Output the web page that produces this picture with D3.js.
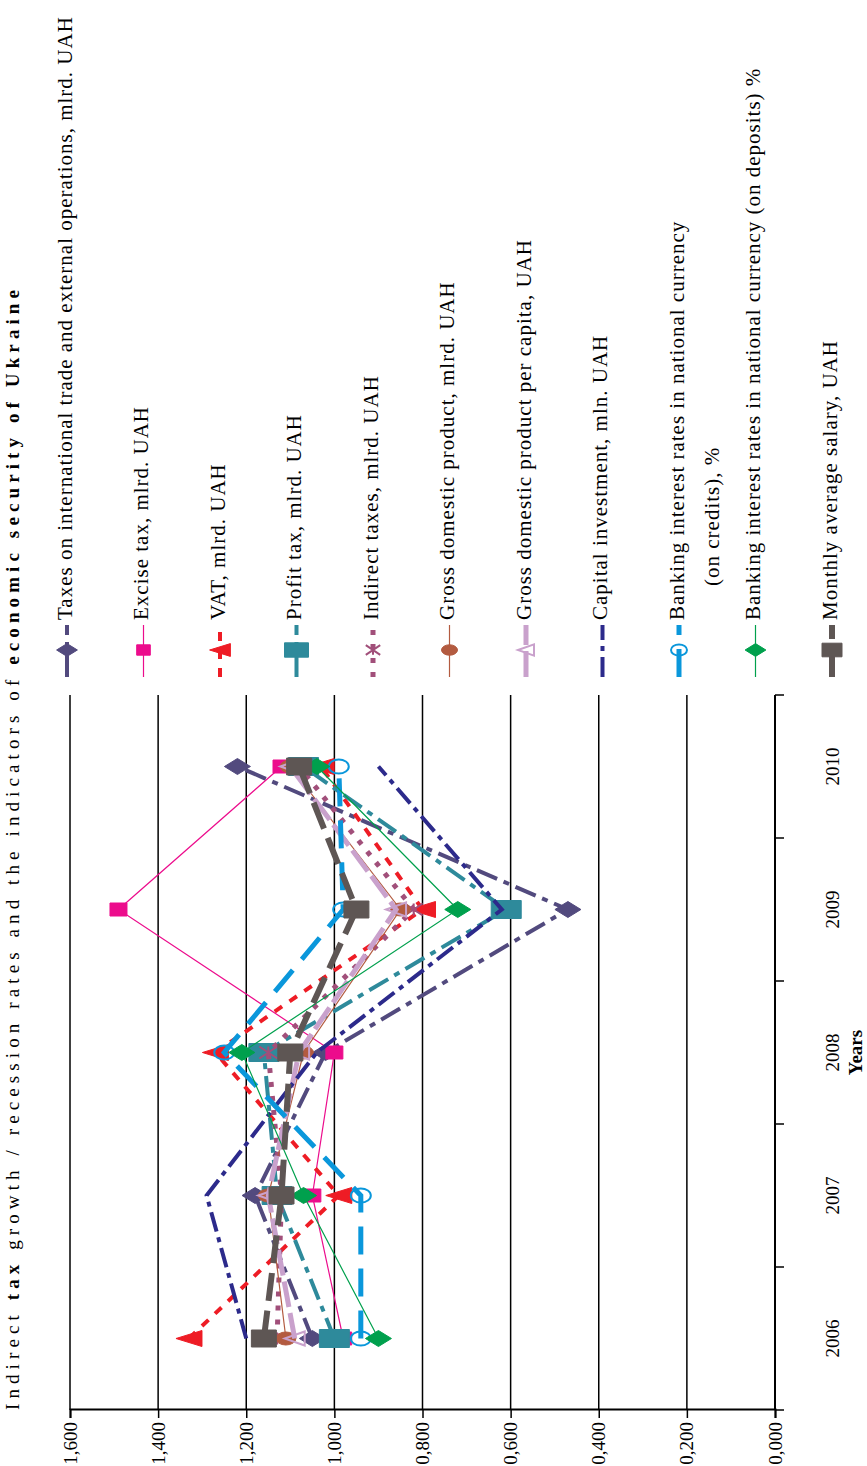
<!DOCTYPE html>
<html>
<head>
<meta charset="utf-8">
<script src="https://cdn.jsdelivr.net/npm/d3@7"></script>
<style>
  body { margin: 0; background: #fff; }
  svg text { font-family: "Liberation Serif", "Times New Roman", serif; fill: #000; }
</style>
</head>
<body>
<div id="chart"></div>
<script>
// Data (growth / recession rates)
const years = ['2006', '2007', '2008', '2009', '2010'];
const taxesTrade = [1.05, 1.18, 1.02, 0.47, 1.22];
const excise = [0.98, 1.05, 1.00, 1.49, 1.12];
const vat = [1.33, 0.99, 1.27, 0.80, 1.03];
const profitTax = [1.00, 1.13, 1.16, 0.61, 1.07];
const indirectTaxes = [1.13, 1.12, 1.15, 0.82, 1.08];
const gdp = [1.11, 1.15, 1.07, 0.85, 1.10];
const gdpPerCapita = [1.09, 1.15, 1.08, 0.86, 1.10];
const capitalInvestment = [1.20, 1.29, 1.04, 0.62, 0.90];
const creditRates = [0.94, 0.94, 1.25, 0.98, 0.99];
const depositRates = [0.90, 1.07, 1.21, 0.72, 1.04];
const salary = [1.16, 1.12, 1.10, 0.95, 1.08];
const valueTicks = [0, 0.2, 0.4, 0.6, 0.8, 1.0, 1.2, 1.4, 1.6];

const series = [
    {name: ['Taxes on international trade and external operations, mlrd. UAH'], values: taxesTrade,
     color: '#524a7e', width: 4, dash: '22,7,6,7', marker: 'diamond', mw: 16, mh: 26},
    {name: ['Excise tax, mlrd. UAH'], values: excise,
     color: '#ec0c8c', width: 1.2, dash: null, marker: 'square', mw: 13, mh: 17},
    {name: ['VAT, mlrd. UAH'], values: vat,
     color: '#ee1c25', width: 4, dash: '9,9', marker: 'triangle', mw: 16, mh: 26},
    {name: ['Profit tax, mlrd. UAH'], values: profitTax,
     color: '#2e8a9b', width: 4, dash: '22,7,6,7', marker: 'square', mw: 18, mh: 30},
    {name: ['Indirect taxes, mlrd. UAH'], values: indirectTaxes,
     color: '#a14f7a', width: 5, dash: '5,9', marker: 'cross', mw: 12, mh: 18},
    {name: ['Gross domestic product, mlrd. UAH'], values: gdp,
     color: '#b35b40', width: 1.2, dash: null, marker: 'circle', mw: 13, mh: 20},
    {name: ['Gross domestic product per capita, UAH'], values: gdpPerCapita,
     color: '#c9a1cc', width: 5, dash: '26,6', marker: 'openTriangle', mw: 14, mh: 20},
    {name: ['Capital investment, mln. UAH'], values: capitalInvestment,
     color: '#2c2a8b', width: 4, dash: '20,6,5,6', marker: null, mw: 0, mh: 0},
    {name: ['Banking interest rates in national currency', '(on credits), %'], values: creditRates,
     color: '#0a97db', width: 5, dash: '28,14', marker: 'openCircle', mw: 14, mh: 20},
    {name: ['Banking interest rates in national currency (on deposits) %'], values: depositRates,
     color: '#00a04d', width: 1.2, dash: null, marker: 'diamond', mw: 16, mh: 26},
    {name: ['Monthly average salary, UAH'], values: salary,
     color: '#5e5654', width: 6, dash: '28,10', marker: 'square', mw: 17, mh: 25}
];

const W = 867, H = 1466;

// marker path, w along the category direction, h along the value direction
function markerPath(shape, w, h) {
    const a = w / 2, b = h / 2;
    switch (shape) {
        case 'square': return `M${-a},${-b}H${a}V${b}H${-a}Z`;
        case 'diamond': return `M0,${-b}L${a},0L0,${b}L${-a},0Z`;
        case 'triangle':
        case 'openTriangle': return `M0,${-b}L${a},${b}L${-a},${b}Z`;
        case 'circle':
        case 'openCircle': return `M${-a},0A${a},${b} 0 1,0 ${a},0A${a},${b} 0 1,0 ${-a},0Z`;
        case 'cross': return `M${-a},${-b}L${a},${b}M${a},${-b}L${-a},${b}M${-a},0H${a}`;
        default: return '';
    }
}
function isOpen(shape) { return shape === 'openTriangle' || shape === 'openCircle' || shape === 'cross'; }

const svg = d3.select('#chart').append('svg')
    .attr('width', W)
    .attr('height', H);

// whole chart is rotated 90deg counter-clockwise
const g = svg.append('g')
    .attr('transform', `translate(0,${H}) rotate(-90)`);

const x = d3.scaleBand()
    .domain(years)
    .range([56, 771]);

const y = d3.scaleLinear()
    .domain([0, 1.6])
    .range([775, 70]);

// Title
g.append('text')
    .attr('x', 56)
    .attr('y', 15)
    .attr('dominant-baseline', 'middle')
    .attr('font-size', '19px')
    .attr('textLength', 1120)
    .attr('lengthAdjust', 'spacing')
    .call(t => {
        t.append('tspan').text('Indirect ');
        t.append('tspan').attr('font-weight', 'bold').text('tax');
        t.append('tspan').text(' growth / recession rates and the indicators of ');
        t.append('tspan').attr('font-weight', 'bold').text('economic security of Ukraine');
    });

// Grid lines
g.append('g')
    .selectAll('line')
    .data(valueTicks.filter(d => d > 0))
    .enter()
    .append('line')
    .attr('x1', 56)
    .attr('x2', 771)
    .attr('y1', d => y(d))
    .attr('y2', d => y(d))
    .attr('stroke', '#000')
    .attr('stroke-width', 1.5);

// Value axis
g.append('g')
    .attr('transform', 'translate(56,0)')
    .call(d3.axisLeft(y)
        .tickValues(valueTicks)
        .tickFormat(d => d3.format('.3f')(d).replace('.', ','))
        .tickSize(8)
        .tickPadding(4))
    .call(ax => ax.select('.domain').attr('stroke', '#000').attr('stroke-width', 2))
    .call(ax => ax.selectAll('line').attr('stroke', '#000').attr('stroke-width', 1.5))
    .call(ax => ax.selectAll('text')
        .attr('font-size', '19px')
        .attr('font-family', '"Liberation Serif", serif'));

// Category axis
const catAxis = g.append('g');
catAxis.append('line')
    .attr('x1', 56).attr('x2', 771)
    .attr('y1', y(0)).attr('y2', y(0))
    .attr('stroke', '#000').attr('stroke-width', 2);
catAxis.selectAll('.cat-tick')
    .data(years.map(d => x(d)).concat([x(years[years.length - 1]) + x.bandwidth()]))
    .enter()
    .append('line')
    .attr('x1', d => d).attr('x2', d => d)
    .attr('y1', y(0)).attr('y2', y(0) + 9)
    .attr('stroke', '#000').attr('stroke-width', 1.5);
catAxis.selectAll('.cat-label')
    .data(years)
    .enter()
    .append('text')
    .attr('x', d => x(d) + x.bandwidth() / 2)
    .attr('y', y(0) + 60)
    .attr('text-anchor', 'middle')
    .attr('dominant-baseline', 'middle')
    .attr('font-size', '19px')
    .text(d => d);
g.append('text')
    .attr('x', (56 + 771) / 2)
    .attr('y', y(0) + 83)
    .attr('text-anchor', 'middle')
    .attr('dominant-baseline', 'middle')
    .attr('font-size', '19px')
    .attr('font-weight', 'bold')
    .text('Years');

// Lines and markers
const line = d3.line()
    .x((d, i) => x(years[i]) + x.bandwidth() / 2)
    .y(d => y(d));

series.forEach(s => {
    g.append('path')
        .datum(s.values)
        .attr('d', line)
        .attr('fill', 'none')
        .attr('stroke', s.color)
        .attr('stroke-width', s.width)
        .attr('stroke-dasharray', s.dash);

    if (s.marker) {
        g.append('g')
            .selectAll('path')
            .data(s.values)
            .enter()
            .append('path')
            .attr('transform', (d, i) => `translate(${x(years[i]) + x.bandwidth() / 2},${y(d)})`)
            .attr('d', markerPath(s.marker, s.mw, s.mh))
            .attr('fill', isOpen(s.marker) ? 'none' : s.color)
            .attr('stroke', s.color)
            .attr('stroke-width', isOpen(s.marker) ? 2 : 1);
    }
});

// Legend
const legend = g.append('g');
series.forEach((s, i) => {
    const cy = 67 + i * 76.5;
    const item = legend.append('g').attr('transform', `translate(0,${cy})`);
    item.append('line')
        .attr('x1', 789).attr('x2', 841)
        .attr('y1', 0).attr('y2', 0)
        .attr('stroke', s.color)
        .attr('stroke-width', s.width)
        .attr('stroke-dasharray', s.dash);
    if (s.marker) {
        item.append('path')
            .attr('transform', 'translate(816,0)')
            .attr('d', markerPath(s.marker, s.mw * 0.8, s.mh * 0.8))
            .attr('fill', isOpen(s.marker) ? 'none' : s.color)
            .attr('stroke', s.color)
            .attr('stroke-width', isOpen(s.marker) ? 2 : 1);
    }
    s.name.forEach((ln, j) => {
        item.append('text')
            .attr('x', j === 0 ? 846 : 880)
            .attr('y', j * 35)
            .attr('dominant-baseline', 'middle')
            .attr('font-size', '21px')
            .attr('letter-spacing', '1px')
            .text(ln);
    });
});
</script>
</body>
</html>
